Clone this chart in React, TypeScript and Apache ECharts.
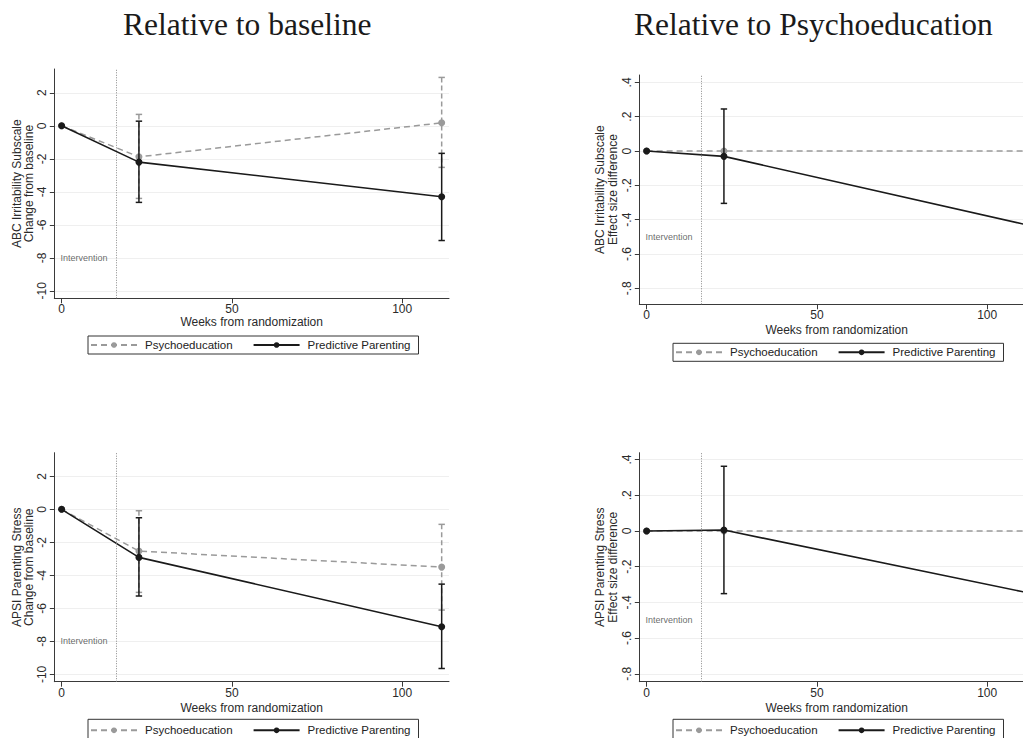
import React, { useEffect, useRef } from "react";
import * as echarts from "echarts";

// ---- data ----
const weeks = [0, 22.7, 111.6];
const interventionWeek = 16;

// ABC Irritability Subscale, change from baseline
const abcPsych = [0, -1.88, 0.18];
const abcPsychLo = [null, -4.4, -2.52];
const abcPsychHi = [null, 0.69, 2.93];
const abcPred = [0, -2.2, -4.3];
const abcPredLo = [null, -4.64, -6.95];
const abcPredHi = [null, 0.28, -1.67];

// ABC Irritability Subscale, effect size difference
const abcEsPsych = [0, 0, 0];
const abcEsPred = [0, -0.031, -0.43];
const abcEsPredLo = [null, -0.305, null];
const abcEsPredHi = [null, 0.245, null];

// APSI Parenting Stress, change from baseline
const apsiPsych = [0, -2.53, -3.5];
const apsiPsychLo = [null, -5.03, -6.1];
const apsiPsychHi = [null, -0.085, -0.91];
const apsiPred = [0, -2.91, -7.11];
const apsiPredLo = [null, -5.25, -9.64];
const apsiPredHi = [null, -0.51, -4.53];

// APSI Parenting Stress, effect size difference
const apsiEsPsych = [0, 0, 0];
const apsiEsPred = [0, 0.005, -0.345];
const apsiEsPredLo = [null, -0.351, null];
const apsiEsPredHi = [null, 0.362, null];

const xTicks = [0, 50, 100];
const changeTicks = [-10, -8, -6, -4, -2, 0, 2];
const esTicks = [-0.8, -0.6, -0.4, -0.2, 0, 0.2, 0.4];

const titles = ["Relative to baseline", "Relative to Psychoeducation"];
const yNames = [
  "ABC Irritability Subscale\nChange from baseline",
  "ABC Irritability Subscale\nEffect size difference",
  "APSI Parenting Stress\nChange from baseline",
  "APSI Parenting Stress\nEffect size difference",
];
const xName = "Weeks from randomization";
const seriesNames = ["Psychoeducation", "Predictive Parenting"];

// ---- styling / layout ----
const FONT = "'Liberation Sans', Arial, Helvetica, sans-serif";
const GRAY = "#9a9a9a";
const BLACK = "#1a1a1a";
const AXIS = "#3a3a3a";

const panels = [
  {
    grid: { left: 54.3, top: 69, width: 394.7, height: 229.3 },
    yMin: -10.45, yMax: 3.44, ticks: changeTicks,
    psych: abcPsych, psychLo: abcPsychLo, psychHi: abcPsychHi,
    pred: abcPred, predLo: abcPredLo, predHi: abcPredHi,
    noteY: -8, yNameX: 23.2, xNameY: 321.5, legendTop: 336, legendPad: [3, 8, 3, 2],
  },
  {
    grid: { left: 639.3, top: 75, width: 394.7, height: 229.3 },
    yMin: -0.893, yMax: 0.443, ticks: esTicks,
    psych: abcEsPsych, psychLo: [null, null, null], psychHi: [null, null, null],
    pred: abcEsPred, predLo: abcEsPredLo, predHi: abcEsPredHi,
    noteY: -0.5, yNameX: 606.5, xNameY: 329.5, legendTop: 343.3, legendPad: [3, 8, 3, 2],
  },
  {
    grid: { left: 54.3, top: 452.7, width: 394.7, height: 229 },
    yMin: -10.44, yMax: 3.43, ticks: changeTicks,
    psych: apsiPsych, psychLo: apsiPsychLo, psychHi: apsiPsychHi,
    pred: apsiPred, predLo: apsiPredLo, predHi: apsiPredHi,
    noteY: -8, yNameX: 23.2, xNameY: 707.5, legendTop: 719.3, legendPad: [5, 8, 7, 2],
  },
  {
    grid: { left: 639.3, top: 452.7, width: 394.7, height: 229 },
    yMin: -0.844, yMax: 0.438, ticks: esTicks,
    psych: apsiEsPsych, psychLo: [null, null, null], psychHi: [null, null, null],
    pred: apsiEsPred, predLo: apsiEsPredLo, predHi: apsiEsPredHi,
    noteY: -0.5, yNameX: 606.5, xNameY: 707.5, legendTop: 719.3, legendPad: [5, 8, 7, 2],
  },
];

const fmtTick = (v: number) => {
  if (Math.abs(v) < 1e-9) return "0";
  if (Number.isInteger(v)) return String(v);
  return (v < 0 ? "-" : "") + Math.abs(v).toFixed(1).replace(/^0/, "");
};

const ciRender = (color: string, dashed: boolean) => (params: any, api: any) => {
  const x = api.value(0);
  const lo = api.value(1);
  const hi = api.value(2);
  const top = api.coord([x, hi]);
  const bot = api.coord([x, lo]);
  const cap = 3.2;
  const base = { stroke: color, lineWidth: 1.5, fill: null };
  return {
    type: "group",
    children: [
      { type: "line", shape: { x1: top[0], y1: top[1], x2: bot[0], y2: bot[1] }, style: { ...base, lineDash: dashed ? [5, 3] : null } },
      { type: "line", shape: { x1: top[0] - cap, y1: top[1], x2: top[0] + cap, y2: top[1] }, style: base },
      { type: "line", shape: { x1: bot[0] - cap, y1: bot[1], x2: bot[0] + cap, y2: bot[1] }, style: base },
    ],
  };
};

const ciData = (lo: (number | null)[], hi: (number | null)[]) =>
  weeks
    .map((w, i) => (lo[i] == null || hi[i] == null ? null : [w, lo[i], hi[i]]))
    .filter((d) => d !== null);

function buildOption() {
  const grid: any[] = [];
  const xAxis: any[] = [];
  const yAxis: any[] = [];
  const series: any[] = [];
  const legend: any[] = [];
  const graphic: any[] = [];

  panels.forEach((p, i) => {
    grid.push({ ...p.grid, containLabel: false });
    xAxis.push({
      type: "value",
      gridIndex: i,
      min: -2.15,
      max: 113.75,
      axisLine: { onZero: false, lineStyle: { color: AXIS, width: 1 } },
      axisTick: { customValues: xTicks, length: 5, lineStyle: { color: AXIS } },
      axisLabel: { customValues: xTicks, margin: 5.5, fontSize: 12, lineHeight: 11, color: "#2a2a2a", fontFamily: FONT },
      splitLine: { show: false },
    });
    yAxis.push({
      type: "value",
      gridIndex: i,
      min: p.yMin,
      max: p.yMax,
      axisLine: { show: true, onZero: false, lineStyle: { color: AXIS, width: 1 } },
      axisTick: { show: true, customValues: p.ticks, length: 4.5, lineStyle: { color: AXIS } },
      axisLabel: {
        customValues: p.ticks,
        rotate: 90,
        margin: 6.5,
        fontSize: 12,
        color: "#2a2a2a",
        fontFamily: FONT,
        formatter: (v: number) => fmtTick(v),
      },
      splitLine: { show: true, lineStyle: { color: "#efefef", width: 1 } },
    });

    // intervention note + dotted vertical line
    series.push({
      type: "scatter",
      name: "note" + i,
      xAxisIndex: i,
      yAxisIndex: i,
      silent: true,
      symbolSize: 1,
      itemStyle: { color: "rgba(0,0,0,0)" },
      data: [[-0.5, p.noteY]],
      label: {
        show: true,
        position: "right",
        distance: 0,
        formatter: "Intervention",
        fontSize: 9,
        color: "#444",
        fontFamily: FONT,
      },
      markLine: {
        silent: true,
        symbol: ["none", "none"],
        label: { show: false },
        lineStyle: { type: [1, 1.5], color: "#8a8a8a", width: 1 },
        data: [{ xAxis: interventionWeek }],
      },
      z: 1,
    });

    series.push({
      type: "custom",
      name: "psychCI" + i,
      xAxisIndex: i,
      yAxisIndex: i,
      silent: true,
      renderItem: ciRender(GRAY, true),
      encode: { x: 0, y: [1, 2] },
      data: ciData(p.psychLo, p.psychHi),
      z: 2,
    });
    series.push({
      type: "line",
      name: seriesNames[0],
      xAxisIndex: i,
      yAxisIndex: i,
      silent: true,
      data: weeks.map((w, k) => [w, p.psych[k]]),
      symbol: "circle",
      symbolSize: 7,
      showSymbol: true,
      color: GRAY,
      itemStyle: { color: GRAY },
      lineStyle: { color: GRAY, width: 1.5, type: [6, 4] },
      z: 2,
    });
    series.push({
      type: "custom",
      name: "predCI" + i,
      xAxisIndex: i,
      yAxisIndex: i,
      silent: true,
      renderItem: ciRender(BLACK, false),
      encode: { x: 0, y: [1, 2] },
      data: ciData(p.predLo, p.predHi),
      z: 3,
    });
    series.push({
      type: "line",
      name: seriesNames[1],
      xAxisIndex: i,
      yAxisIndex: i,
      silent: true,
      data: weeks.map((w, k) => [w, p.pred[k]]),
      symbol: "circle",
      symbolSize: 7,
      showSymbol: true,
      color: BLACK,
      itemStyle: { color: BLACK },
      lineStyle: { color: BLACK, width: 1.6, type: "solid" },
      z: 3,
    });

    legend.push({
      data: seriesNames,
      left: p.grid.left + 33.7,
      top: p.legendTop,
      orient: "horizontal",
      selectedMode: false,
      itemWidth: 46,
      itemHeight: 7,
      itemGap: 20,
      padding: p.legendPad,
      borderColor: "#333",
      borderWidth: 1,
      borderRadius: 0,
      backgroundColor: "#fff",
      textStyle: { fontSize: 11.5, color: "#222", fontFamily: FONT, padding: [0, 0, 0, 3] },
    });

    const cx = p.grid.left + p.grid.width / 2;
    const cy = p.grid.top + p.grid.height / 2;
    graphic.push({
      type: "text",
      x: p.yNameX,
      y: cy,
      rotation: Math.PI / 2,
      silent: true,
      style: {
        text: yNames[i],
        fontSize: 12,
        fontFamily: FONT,
        fill: "#2a2a2a",
        lineHeight: 12.3,
        align: "center",
        verticalAlign: "middle",
        textAlign: "center",
        textVerticalAlign: "middle",
      },
    });
    graphic.push({
      type: "text",
      x: cx,
      y: p.xNameY,
      silent: true,
      style: {
        text: xName,
        fontSize: 12,
        lineHeight: 11,
        fontFamily: FONT,
        fill: "#2a2a2a",
        align: "center",
        verticalAlign: "middle",
        textAlign: "center",
        textVerticalAlign: "middle",
      },
    });
  });

  const titleX = [247.2, 813.3];
  titles.forEach((t, i) => {
    graphic.push({
      type: "text",
      x: titleX[i],
      y: 24.5,
      silent: true,
      style: {
        text: t,
        fontSize: 31.5,
        fontFamily: "'Liberation Serif', 'Times New Roman', serif",
        fill: "#1a1a1a",
        align: "center",
        verticalAlign: "middle",
        textAlign: "center",
        textVerticalAlign: "middle",
      },
    });
  });

  return {
    animation: false,
    backgroundColor: "#fff",
    textStyle: { fontFamily: FONT },
    grid,
    xAxis,
    yAxis,
    legend,
    series,
    graphic,
  };
}

export default function App() {
  const ref = useRef<HTMLDivElement>(null);
  useEffect(() => {
    if (!ref.current) return;
    const chart = echarts.init(ref.current, undefined, { renderer: "svg" });
    chart.setOption(buildOption() as any);
    return () => chart.dispose();
  }, []);
  return (
    <div
      style={{
        position: "fixed",
        left: 0,
        top: 0,
        width: 1023,
        height: 738,
        overflow: "hidden",
        background: "#fff",
      }}
    >
      <div ref={ref} style={{ width: 1040, height: 738 }} />
    </div>
  );
}
